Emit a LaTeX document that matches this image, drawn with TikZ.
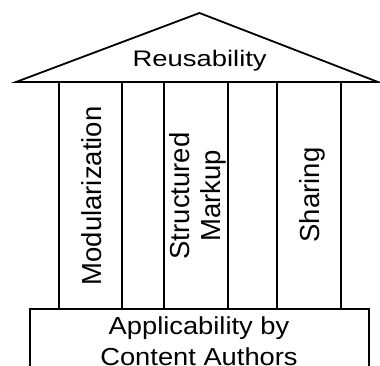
\documentclass[tikz,border=0pt]{standalone}
\usepackage{fontspec}
\setmainfont{Liberation Sans}
\begin{document}
\begin{tikzpicture}[x=1pt, y=-1pt,
  edge/.style={draw=black, line width=1.8pt, line join=miter},
  vlabel/.style={rotate=90, inner sep=0pt, align=center,
    font=\fontsize{27.5}{31}\selectfont},
  rooflabel/.style={inner sep=0pt, yscale=0.82,
    font=\fontsize{27.4}{30}\selectfont},
  baselabel/.style={inner sep=0pt, yscale=0.9, align=center,
    font=\fontsize{27.3}{34.5}\selectfont}]
\useasboundingbox (0,0) rectangle (380,366);
\clip (0,0) rectangle (380,366);

% roof
\coordinate (eaveL) at (16,82);
\coordinate (apex)  at (199.5,13);
\coordinate (eaveR) at (378,82);
\draw[edge] (eaveL) -- (apex) -- (eaveR) -- cycle;

% three pillars
\draw[edge] (59,82)  rectangle (122,309);
\draw[edge] (164,82) rectangle (228,309);
\draw[edge] (277,82) rectangle (341,309);

% foundation (runs past the lower edge)
\draw[edge] (30,309) rectangle (369,390);

% labels
\node[rooflabel, anchor=base] (reuse) at (199.7,67) {Reusability};
\node[vlabel, anchor=base]  (modul)  at (101.5,196) {Modularization};
\node[vlabel, anchor=north] (markup) at (169.5,196) {Structured\\Markup};
\node[vlabel, anchor=base]  (share)  at (319,195)   {Sharing};
\node[baselabel, anchor=north] (apply) at (199,316.5) {Applicability by\\Content Authors};
\end{tikzpicture}
\end{document}
